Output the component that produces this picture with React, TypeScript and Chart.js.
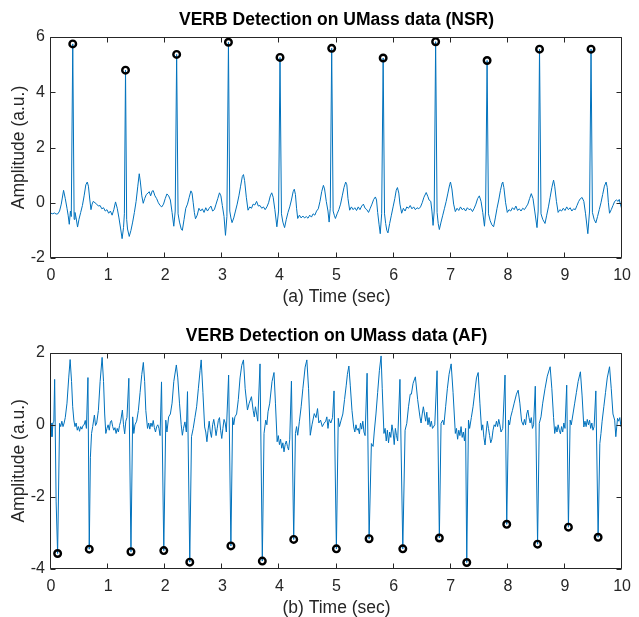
import React, { useEffect, useRef } from 'react';
import { Chart, registerables } from 'chart.js';

Chart.register(...registerables);

// ---------- data ----------
const xTicks = [0, 1, 2, 3, 4, 5, 6, 7, 8, 9, 10];
const nsrYTicks = [-2, 0, 2, 4, 6];
const afYTicks = [-4, -2, 0, 2];

const nsrTitle = 'VERB Detection on UMass data (NSR)';
const afTitle = 'VERB Detection on UMass data (AF)';
const nsrXLabel = '(a) Time (sec)';
const afXLabel = '(b) Time (sec)';
const yLabel = 'Amplitude (a.u.)';

// detected R peaks (time s, amplitude)
const nsrPeaks: [number, number][] = [
  [0.381, 5.75], [1.305, 4.8], [2.2, 5.37], [3.107, 5.81], [4.01, 5.26], [4.915, 5.59],
  [5.816, 5.24], [6.735, 5.83], [7.636, 5.15], [8.554, 5.56], [9.456, 5.56],
];

const afPeaks: [number, number][] = [
  [0.116, -3.57], [0.67, -3.45], [1.4, -3.52], [1.975, -3.49], [2.43, -3.81], [3.15, -3.36],
  [3.7, -3.78], [4.25, -3.18], [4.997, -3.44], [5.57, -3.16], [6.16, -3.44], [6.8, -3.14],
  [7.28, -3.82], [7.98, -2.76], [8.52, -3.31], [9.06, -2.84], [9.58, -3.12],
];

// ECG trace, NSR (time s, amplitude)
const nsrSignal: [number, number][] = [
  [0, -0.38], [0.03, -0.4], [0.06, -0.37], [0.09, -0.41], [0.12, -0.4], [0.15, -0.3], [0.18, -0.05],
  [0.22, 0.45], [0.25, 0.15], [0.28, -0.2], [0.3, -0.45], [0.32, -0.78], [0.34, -0.3], [0.355, -0.5],
  [0.381, 5.75], [0.405, -0.6], [0.42, -0.35], [0.44, -0.55], [0.465, -0.88], [0.49, -0.6], [0.52, -0.35],
  [0.55, -0.1], [0.58, 0.25], [0.61, 0.65], [0.635, 0.75], [0.655, 0.6], [0.68, 0.1], [0.7, -0.25],
  [0.72, -0.05], [0.74, 0.05], [0.77, 0.0], [0.8, -0.05], [0.83, -0.12], [0.86, -0.1], [0.89, -0.22],
  [0.92, -0.18], [0.95, -0.3], [0.98, -0.25], [1.01, -0.38], [1.04, -0.3], [1.07, -0.45], [1.1, -0.25],
  [1.13, 0.03], [1.16, -0.2], [1.19, -0.55], [1.22, -0.95], [1.245, -1.3], [1.27, -0.9], [1.285, -0.4],
  [1.305, 4.8], [1.325, -0.6], [1.34, -0.95], [1.37, -1.22], [1.4, -1.0], [1.43, -0.7], [1.46, -0.35],
  [1.49, 0.05], [1.52, 0.6], [1.545, 1.05], [1.565, 0.75], [1.59, 0.25], [1.615, -0.02], [1.64, 0.15],
  [1.67, 0.3], [1.7, 0.35], [1.72, 0.4], [1.745, 0.25], [1.77, 0.42], [1.79, 0.44], [1.82, 0.25],
  [1.85, 0.15], [1.88, 0.0], [1.91, -0.1], [1.94, -0.15], [1.97, -0.05], [2.0, 0.15], [2.03, 0.32],
  [2.06, 0.25], [2.09, 0.1], [2.12, -0.35], [2.15, -0.85], [2.175, -0.3], [2.2, 5.37], [2.225, -0.4],
  [2.25, -0.7], [2.28, -0.95], [2.3, -1.0], [2.33, -0.6], [2.36, -0.2], [2.39, -0.05], [2.42, 0.2],
  [2.45, 0.43], [2.47, 0.35], [2.49, 0.0], [2.51, -0.35], [2.53, -0.58], [2.56, -0.45], [2.59, -0.2],
  [2.62, -0.3], [2.65, -0.22], [2.68, -0.35], [2.71, -0.18], [2.74, -0.3], [2.77, -0.2], [2.8, -0.12],
  [2.83, -0.3], [2.86, -0.25], [2.89, -0.05], [2.92, 0.15], [2.95, 0.36], [2.975, 0.25], [3.0, -0.1],
  [3.03, -0.5], [3.055, -1.18], [3.08, -0.5], [3.107, 5.81], [3.13, -0.3], [3.15, -0.55], [3.17, -0.72],
  [3.2, -0.55], [3.23, -0.3], [3.26, -0.05], [3.29, 0.25], [3.32, 0.6], [3.35, 0.95], [3.37, 1.02],
  [3.39, 0.8], [3.42, 0.2], [3.45, -0.27], [3.48, -0.15], [3.51, -0.2], [3.54, -0.05], [3.57, -0.08],
  [3.6, 0.05], [3.63, -0.12], [3.66, -0.1], [3.69, -0.2], [3.72, -0.15], [3.75, -0.25], [3.78, -0.15],
  [3.81, 0.0], [3.84, 0.25], [3.865, 0.36], [3.89, 0.2], [3.92, -0.25], [3.955, -0.87], [3.985, -0.3],
  [4.01, 5.26], [4.035, -0.4], [4.06, -0.7], [4.09, -0.9], [4.12, -0.6], [4.15, -0.35], [4.18, -0.15],
  [4.21, 0.1], [4.24, 0.4], [4.26, 0.49], [4.28, 0.3], [4.3, -0.2], [4.32, -0.57], [4.35, -0.45],
  [4.38, -0.55], [4.41, -0.48], [4.44, -0.55], [4.47, -0.5], [4.5, -0.56], [4.53, -0.45], [4.56, -0.52],
  [4.59, -0.4], [4.62, -0.45], [4.65, -0.3], [4.68, -0.22], [4.71, 0.05], [4.74, 0.4], [4.77, 0.63],
  [4.79, 0.5], [4.82, 0.05], [4.85, -0.3], [4.87, -0.7], [4.89, -0.2], [4.915, 5.59], [4.94, -0.3],
  [4.96, -0.45], [4.98, -0.57], [5.01, -0.4], [5.04, -0.25], [5.07, -0.05], [5.1, 0.25], [5.13, 0.55],
  [5.16, 0.75], [5.18, 0.65], [5.2, 0.15], [5.23, -0.27], [5.26, -0.15], [5.29, -0.25], [5.32, -0.18],
  [5.35, -0.28], [5.38, -0.15], [5.41, -0.25], [5.44, -0.12], [5.47, -0.05], [5.5, -0.2], [5.53, -0.25],
  [5.56, -0.35], [5.59, -0.2], [5.62, -0.05], [5.65, 0.12], [5.68, 0.21], [5.7, 0.1], [5.72, -0.35],
  [5.745, -0.8], [5.765, -1.12], [5.79, -0.4], [5.816, 5.24], [5.84, -0.4], [5.86, -0.75], [5.88, -1.0],
  [5.9, -1.09], [5.93, -0.75], [5.96, -0.45], [5.99, -0.15], [6.02, 0.15], [6.045, 0.45], [6.066, 0.55],
  [6.09, 0.35], [6.11, -0.05], [6.14, -0.38], [6.17, -0.2], [6.2, -0.3], [6.23, -0.15], [6.26, -0.2],
  [6.29, -0.1], [6.32, -0.22], [6.35, -0.15], [6.38, -0.25], [6.41, -0.18], [6.44, -0.22], [6.47, -0.15],
  [6.5, 0.0], [6.53, 0.2], [6.57, 0.37], [6.6, 0.22], [6.62, 0.1], [6.65, 0.05], [6.67, -0.3],
  [6.69, -0.82], [6.71, -0.3], [6.735, 5.83], [6.76, -0.35], [6.78, -0.75], [6.8, -0.97], [6.83, -0.7],
  [6.86, -0.45], [6.89, -0.2], [6.92, 0.05], [6.95, 0.35], [6.98, 0.65], [6.995, 0.75], [7.02, 0.5],
  [7.05, -0.05], [7.08, -0.32], [7.11, -0.2], [7.14, -0.28], [7.17, -0.15], [7.2, -0.25], [7.23, -0.2],
  [7.26, -0.3], [7.29, -0.18], [7.32, -0.25], [7.35, -0.22], [7.38, -0.32], [7.41, -0.2], [7.44, -0.05],
  [7.47, 0.15], [7.5, 0.25], [7.53, 0.05], [7.56, -0.35], [7.59, -0.85], [7.61, -0.3], [7.636, 5.15],
  [7.66, -0.4], [7.69, -0.65], [7.72, -0.8], [7.75, -0.87], [7.78, -0.55], [7.81, -0.2], [7.84, 0.1],
  [7.87, 0.45], [7.9, 0.72], [7.91, 0.75], [7.93, 0.55], [7.96, 0.0], [7.99, -0.35], [8.02, -0.25],
  [8.05, -0.3], [8.08, -0.18], [8.11, -0.25], [8.14, -0.12], [8.17, -0.28], [8.2, -0.22], [8.23, -0.3],
  [8.26, -0.2], [8.29, -0.25], [8.32, -0.15], [8.35, -0.05], [8.38, 0.15], [8.41, 0.33], [8.44, 0.15],
  [8.47, -0.3], [8.51, -0.9], [8.53, -0.3], [8.554, 5.56], [8.58, -0.4], [8.61, -0.6], [8.65, -0.75],
  [8.68, -0.45], [8.71, -0.15], [8.74, 0.2], [8.77, 0.55], [8.8, 0.82], [8.82, 0.6], [8.85, 0.05],
  [8.88, -0.35], [8.91, -0.25], [8.94, -0.3], [8.97, -0.2], [9.0, -0.28], [9.03, -0.15], [9.06, -0.25],
  [9.09, -0.18], [9.12, -0.3], [9.15, -0.22], [9.18, -0.25], [9.21, -0.1], [9.24, 0.05], [9.27, 0.15],
  [9.3, 0.19], [9.33, 0.05], [9.36, -0.4], [9.4, -1.12], [9.43, -0.3], [9.456, 5.56], [9.48, -0.35],
  [9.51, -0.6], [9.54, -0.73], [9.57, -0.5], [9.6, -0.25], [9.63, 0.0], [9.66, 0.3], [9.69, 0.6],
  [9.72, 0.75], [9.74, 0.55], [9.76, 0.0], [9.78, -0.38], [9.81, -0.25], [9.84, -0.1], [9.87, 0.05],
  [9.9, 0.1], [9.93, 0.05], [9.95, 0.12], [9.97, -0.05], [10.0, -0.27],
];

// ECG trace, AF (time s, amplitude)
const afSignal: [number, number][] = [
  [0, 0.05], [0.017, -0.33], [0.035, 0.05], [0.05, 0.1], [0.064, 1.26], [0.09, -2.14], [0.116, -3.57],
  [0.15, 0.04], [0.17, -0.05], [0.19, 0.1], [0.21, -0.05], [0.23, 0.05], [0.25, 0.2], [0.28, 0.6],
  [0.31, 1.3], [0.335, 1.81], [0.36, 1.2], [0.38, 0.5], [0.4, 0.13], [0.42, -0.05], [0.44, 0.05],
  [0.46, -0.15], [0.48, -0.05], [0.5, -0.18], [0.52, -0.05], [0.54, -0.12], [0.56, -0.02], [0.58, 0.0],
  [0.6, 0.12], [0.62, -0.1], [0.647, 1.31], [0.67, -3.45], [0.69, -0.9], [0.71, -0.24], [0.73, -0.05],
  [0.76, 0.27], [0.78, -0.02], [0.8, 0.05], [0.83, 0.4], [0.86, 1.2], [0.895, 1.87], [0.92, 1.2],
  [0.94, 0.3], [0.96, -0.24], [0.98, -0.1], [1.0, 0.0], [1.02, -0.15], [1.04, 0.08], [1.06, 0.12],
  [1.08, -0.05], [1.1, -0.15], [1.12, -0.08], [1.14, -0.24], [1.16, -0.1], [1.18, -0.2], [1.2, -0.02],
  [1.22, 0.1], [1.25, 0.41], [1.27, 0.0], [1.29, -0.25], [1.31, 0.1], [1.33, 0.2], [1.363, 1.29],
  [1.4, -3.52], [1.43, 0.22], [1.45, -0.24], [1.47, 0.0], [1.5, 0.1], [1.53, 0.4], [1.56, 0.9],
  [1.59, 1.4], [1.617, 1.73], [1.64, 1.2], [1.66, 0.4], [1.69, -0.1], [1.71, 0.05], [1.73, -0.12],
  [1.75, 0.05], [1.77, -0.05], [1.79, 0.12], [1.81, -0.08], [1.83, -0.2], [1.85, -0.05], [1.87, 0.0],
  [1.89, -0.1], [1.91, -0.3], [1.935, 1.19], [1.975, -3.49], [2.01, 0.13], [2.03, -0.2], [2.06, 0.22],
  [2.09, 0.3], [2.12, 0.6], [2.15, 1.2], [2.195, 1.66], [2.22, 1.3], [2.25, 0.6], [2.28, 0.0],
  [2.3, -0.29], [2.32, -0.1], [2.345, 0.08], [2.37, -0.2], [2.39, 0.92], [2.43, -3.81], [2.46, -0.33],
  [2.49, -0.1], [2.52, 0.2], [2.55, 0.5], [2.58, 1.0], [2.61, 1.5], [2.63, 1.8], [2.66, 0.9],
  [2.69, -0.06], [2.71, -0.2], [2.73, -0.47], [2.75, -0.15], [2.77, 0.1], [2.79, -0.2], [2.81, -0.35],
  [2.83, 0.0], [2.85, 0.15], [2.87, -0.05], [2.89, -0.3], [2.91, -0.1], [2.93, 0.12], [2.95, 0.2],
  [2.97, -0.15], [2.99, -0.38], [3.01, -0.1], [3.03, 0.15], [3.05, 0.05], [3.07, -0.2], [3.11, 1.38],
  [3.15, -3.36], [3.18, 0.2], [3.2, 0.0], [3.22, 0.22], [3.25, 0.3], [3.28, 0.7], [3.31, 1.3],
  [3.34, 1.65], [3.37, 1.8], [3.4, 1.0], [3.44, 0.41], [3.47, 0.6], [3.51, 0.78], [3.54, 0.4],
  [3.56, 0.22], [3.58, 0.5], [3.6, 0.3], [3.62, 0.1], [3.66, 1.69], [3.7, -3.78], [3.73, -0.24],
  [3.76, 0.13], [3.78, 0.0], [3.8, 0.36], [3.83, 0.6], [3.87, 1.2], [3.905, 1.45], [3.93, 0.6],
  [3.96, -0.47], [3.98, -0.3], [4.0, -0.55], [4.02, -0.4], [4.04, -0.65], [4.06, -0.5], [4.08, -0.75],
  [4.1, -0.55], [4.12, -0.45], [4.14, -0.6], [4.16, -0.7], [4.18, -0.4], [4.21, 1.21], [4.25, -3.18],
  [4.28, -0.24], [4.3, -0.05], [4.32, -0.29], [4.35, 0.1], [4.38, 0.5], [4.41, 1.0], [4.45, 1.6],
  [4.48, 1.8], [4.51, 1.0], [4.54, -0.29], [4.57, 0.0], [4.61, 0.31], [4.64, 0.2], [4.667, 0.45],
  [4.69, 0.05], [4.72, 0.13], [4.75, -0.05], [4.78, 0.04], [4.81, 0.1], [4.83, 0.22], [4.85, -0.1],
  [4.87, 0.15], [4.9, 0.05], [4.93, 0.2], [4.956, 0.94], [4.997, -3.44], [5.03, 0.18], [5.05, -0.05],
  [5.08, 0.13], [5.11, 0.3], [5.14, 0.7], [5.17, 1.1], [5.19, 1.4], [5.216, 1.63], [5.24, 1.1],
  [5.27, 0.4], [5.3, -0.06], [5.32, -0.2], [5.34, 0.0], [5.36, -0.15], [5.38, -0.1], [5.4, -0.25],
  [5.42, 0.05], [5.44, -0.12], [5.46, 0.1], [5.48, -0.2], [5.5, -0.3], [5.535, 1.43], [5.57, -3.16],
  [5.61, -0.52], [5.64, -0.6], [5.66, -0.2], [5.69, 0.3], [5.72, 0.9], [5.75, 1.5], [5.78, 1.91],
  [5.8, 1.0], [5.83, -0.24], [5.85, -0.1], [5.87, -0.45], [5.89, -0.15], [5.91, -0.5], [5.93, -0.2],
  [5.95, -0.35], [5.97, 0.0], [5.99, -0.2], [6.01, -0.55], [6.03, -0.1], [6.05, -0.3], [6.07, -0.45],
  [6.11, 1.26], [6.16, -3.44], [6.2, -0.15], [6.23, 0.04], [6.26, 0.5], [6.29, 0.85], [6.31, 0.85],
  [6.34, 1.15], [6.38, 1.33], [6.42, 0.7], [6.46, 0.22], [6.48, 0.05], [6.5, 0.3], [6.52, 0.5],
  [6.54, 0.3], [6.56, 0.1], [6.58, 0.35], [6.6, 0.0], [6.62, 0.2], [6.64, -0.05], [6.66, 0.1],
  [6.68, -0.1], [6.72, 0.0], [6.76, 1.5], [6.8, -3.14], [6.83, 0.04], [6.86, 0.13], [6.88, 0.0],
  [6.91, 0.5], [6.94, 1.0], [6.97, 1.4], [7.007, 1.69], [7.04, 0.9], [7.08, -0.24], [7.1, -0.1],
  [7.12, -0.4], [7.14, -0.15], [7.16, -0.3], [7.18, -0.05], [7.2, -0.35], [7.22, -0.2], [7.24, -0.45],
  [7.26, -0.1], [7.28, -3.82], [7.31, 0.13], [7.33, -0.1], [7.36, 0.2], [7.39, 0.5], [7.42, 0.9],
  [7.45, 1.3], [7.48, 1.45], [7.51, 0.6], [7.54, -0.15], [7.56, 0.0], [7.58, -0.35], [7.6, -0.56],
  [7.62, -0.2], [7.64, 0.1], [7.66, -0.1], [7.68, -0.3], [7.7, -0.5], [7.72, -0.4], [7.74, -0.15],
  [7.76, 0.0], [7.78, -0.05], [7.8, 0.1], [7.82, -0.05], [7.84, 0.15], [7.86, 0.0], [7.88, -0.2],
  [7.91, -0.1], [7.95, 1.38], [7.98, -2.76], [8.01, 0.13], [8.03, 0.0], [8.05, 0.22], [8.08, 0.4],
  [8.11, 0.6], [8.15, 0.85], [8.18, 0.96], [8.21, 0.6], [8.24, 0.1], [8.27, -0.01], [8.29, 0.15],
  [8.31, 0.0], [8.33, 0.3], [8.35, 0.41], [8.37, 0.2], [8.39, 0.05], [8.41, 0.2], [8.43, -0.1],
  [8.45, 0.0], [8.48, 1.07], [8.52, -3.31], [8.55, 0.04], [8.58, 0.22], [8.61, 0.6], [8.65, 1.0],
  [8.69, 1.35], [8.74, 1.61], [8.77, 1.0], [8.8, 0.2], [8.82, -0.24], [8.84, -0.05], [8.86, -0.2],
  [8.88, 0.0], [8.9, -0.15], [8.92, -0.25], [8.94, -0.05], [8.96, -0.2], [8.98, 0.05], [9.0, -0.1],
  [9.03, 1.1], [9.06, -2.84], [9.09, 0.13], [9.11, 0.0], [9.14, 0.3], [9.17, 0.6], [9.2, 0.9],
  [9.23, 1.2], [9.27, 1.47], [9.3, 0.8], [9.33, -0.06], [9.35, 0.1], [9.37, -0.05], [9.39, 0.15],
  [9.41, 0.0], [9.43, 0.13], [9.45, -0.1], [9.47, 0.05], [9.49, -0.15], [9.51, -0.05], [9.54, 0.94],
  [9.58, -3.12], [9.61, -0.52], [9.63, -0.24], [9.65, 0.1], [9.68, 0.5], [9.71, 0.9], [9.74, 1.3],
  [9.78, 1.61], [9.81, 1.0], [9.84, 0.3], [9.87, 0.13], [9.89, -0.33], [9.92, 0.18], [9.94, 0.1],
  [9.96, 0.2], [9.98, -0.05], [10.0, -0.1],
];

// ---------- styling ----------
const FONT = '"Liberation Sans", Arial, Helvetica, sans-serif';
const AXIS_COLOR = '#262626';
const LINE_COLOR = '#0072BD';

const boxPlugin = {
  id: 'matlabBox',
  afterDatasetsDraw(chart: any) {
    const { ctx, chartArea } = chart;
    const { left, right, top, bottom } = chartArea;
    const xs = chart.scales.x;
    const ys = chart.scales.y;
    ctx.save();
    ctx.strokeStyle = AXIS_COLOR;
    ctx.lineWidth = 1;
    const l = Math.round(left) - 0.5;
    const r = Math.round(right) - 0.5;
    const t = Math.round(top) + 0.5;
    const b = Math.round(bottom) - 0.5;
    ctx.beginPath();
    ctx.rect(l, t, r - l, b - t);
    const len = 5;
    xs.ticks.forEach((tk: any) => {
      const px = Math.round(xs.getPixelForValue(tk.value)) - 0.5;
      ctx.moveTo(px, b);
      ctx.lineTo(px, b - len);
      ctx.moveTo(px, t);
      ctx.lineTo(px, t + len);
    });
    ys.ticks.forEach((tk: any) => {
      const py = Math.round(ys.getPixelForValue(tk.value)) + 0.5;
      ctx.moveTo(l, py);
      ctx.lineTo(l + len, py);
      ctx.moveTo(r, py);
      ctx.lineTo(r - len, py);
    });
    ctx.stroke();
    ctx.restore();
  },
};

type Layout = {
  titleTop: number;
  titleBottom: number;
  xHeight: number;
  xTitleBottom: number;
};

function makeConfig(
  signal: [number, number][],
  peaks: [number, number][],
  yTicks: number[],
  title: string,
  xLabel: string,
  lay: Layout,
): any {
  return {
    type: 'line',
    data: {
      datasets: [
        {
          data: peaks.map(([x, y]) => ({ x, y })),
          showLine: false,
          pointRadius: 3.3,
          pointBorderWidth: 2.4,
          pointBorderColor: '#000000',
          pointBackgroundColor: 'rgba(255,255,255,0)',
          borderColor: '#000000',
          order: 0,
        },
        {
          data: signal.map(([x, y]) => ({ x, y })),
          borderColor: LINE_COLOR,
          borderWidth: 1,
          pointRadius: 0,
          tension: 0,
          fill: false,
          order: 1,
        },
      ],
    },
    options: {
      responsive: false,
      animation: false,
      devicePixelRatio: 1,
      events: [],
      layout: { autoPadding: false, padding: { left: 0, right: 11, top: 0, bottom: 0 } },
      plugins: {
        legend: { display: false },
        tooltip: { enabled: false },
        title: {
          display: true,
          fullSize: false,
          text: title,
          color: '#000000',
          font: { family: FONT, size: 17.5, weight: 'bold', lineHeight: 1.2 },
          padding: { top: lay.titleTop, bottom: lay.titleBottom },
        },
      },
      scales: {
        x: {
          type: 'linear',
          min: xTicks[0],
          max: xTicks[xTicks.length - 1],
          afterBuildTicks: (s: any) => {
            s.ticks = xTicks.map((v) => ({ value: v }));
          },
          afterFit: (s: any) => {
            s.height = lay.xHeight;
          },
          grid: { display: false, drawTicks: false },
          border: { display: false },
          ticks: {
            color: AXIS_COLOR,
            font: { family: FONT, size: 16, lineHeight: 1.2 },
            padding: 8,
            maxRotation: 0,
            autoSkip: false,
          },
          title: {
            display: true,
            text: xLabel,
            color: AXIS_COLOR,
            font: { family: FONT, size: 17.5, lineHeight: 1 },
            padding: { top: 0, bottom: lay.xTitleBottom },
          },
        },
        y: {
          type: 'linear',
          min: yTicks[0],
          max: yTicks[yTicks.length - 1],
          afterBuildTicks: (s: any) => {
            s.ticks = yTicks.map((v) => ({ value: v }));
          },
          afterFit: (s: any) => {
            s.width = 51;
          },
          grid: { display: false, drawTicks: false },
          border: { display: false },
          ticks: {
            color: AXIS_COLOR,
            font: { family: FONT, size: 16, lineHeight: 1.2 },
            padding: 6,
            autoSkip: false,
          },
          title: {
            display: true,
            text: yLabel,
            color: AXIS_COLOR,
            font: { family: FONT, size: 17.5, lineHeight: 1 },
            padding: { top: 10.75, bottom: 0 },
          },
        },
      },
    },
    plugins: [boxPlugin],
  };
}

function Panel(props: {
  top: number;
  height: number;
  signal: [number, number][];
  peaks: [number, number][];
  yTicks: number[];
  title: string;
  xLabel: string;
  lay: Layout;
}) {
  const ref = useRef<HTMLCanvasElement | null>(null);
  useEffect(() => {
    if (!ref.current) return;
    const chart = new Chart(
      ref.current,
      makeConfig(props.signal, props.peaks, props.yTicks, props.title, props.xLabel, props.lay),
    );
    return () => chart.destroy();
  }, []);
  return (
    <canvas
      ref={ref}
      width={639}
      height={props.height}
      style={{ position: 'absolute', left: 0, top: props.top, width: 639, height: props.height }}
    />
  );
}

export default function App() {
  return (
    <div
      style={{
        position: 'absolute',
        left: 0,
        top: 0,
        width: 639,
        height: 617,
        background: '#ffffff',
        overflow: 'hidden',
      }}
    >
      <Panel
        top={0}
        height={310}
        signal={nsrSignal}
        peaks={nsrPeaks}
        yTicks={nsrYTicks}
        title={nsrTitle}
        xLabel={nsrXLabel}
        lay={{ titleTop: 9.5, titleBottom: 6.5, xHeight: 52, xTitleBottom: 4.25 }}
      />
      <Panel
        top={300}
        height={317}
        signal={afSignal}
        peaks={afPeaks}
        yTicks={afYTicks}
        title={afTitle}
        xLabel={afXLabel}
        lay={{ titleTop: 25.2, titleBottom: 6.5, xHeight: 48, xTitleBottom: 0.25 }}
      />
    </div>
  );
}
